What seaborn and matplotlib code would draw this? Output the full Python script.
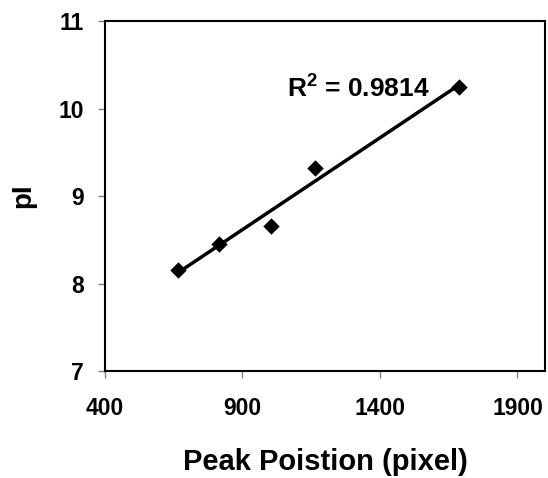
import pandas as pd
import matplotlib
matplotlib.use("Agg")
import matplotlib.pyplot as plt
import seaborn as sns

# values
peak_position = [666, 815, 1002, 1162, 1688]
pi_values = [8.15, 8.45, 8.66, 9.32, 10.25]
r2_label = "R$^2$ = 0.9814"
x_ticks = [400, 900, 1400, 1900]
y_ticks = [7, 8, 9, 10, 11]

df = pd.DataFrame({"Peak": peak_position, "pI": pi_values})

sns.set_style("white")
plt.rcParams['font.family'] = ['Liberation Sans', 'DejaVu Sans']
plt.rcParams['font.weight'] = 'bold'
plt.rcParams['text.color'] = 'black'
plt.rcParams['axes.labelcolor'] = 'black'
plt.rcParams['mathtext.fontset'] = 'custom'
plt.rcParams['mathtext.rm'] = 'Liberation Sans:bold'
plt.rcParams['mathtext.it'] = 'Liberation Sans:bold'
plt.rcParams['mathtext.bf'] = 'Liberation Sans:bold'

fig = plt.figure(figsize=(5.48, 4.78), dpi=100)
ax = fig.add_axes([0.1916, 0.2238, 0.8029, 0.7322])

sns.regplot(data=df, x="Peak", y="pI", ax=ax, ci=None, truncate=True, color="black",
            marker="D", scatter_kws={"s": 70, "linewidths": 0, "alpha": 1},
            line_kws={"linewidth": 2.5})

ax.set_xlim(400, 2000)
ax.set_ylim(7, 11)
ax.set_xticks(x_ticks)
ax.set_yticks(y_ticks)
ax.tick_params(axis="both", direction="out", length=5, width=1, color="gray",
               labelcolor="black", labelsize=16.5, bottom=True, left=True)
ax.tick_params(axis="x", pad=14)
ax.tick_params(axis="y", pad=10)
for lbl in ax.get_xticklabels() + ax.get_yticklabels():
    lbl.set_fontweight("bold")

for s in ax.spines.values():
    s.set_color("black")
    s.set_linewidth(1.5)

ax.set_xlabel("Peak Poistion (pixel)", fontsize=21, fontweight="bold", labelpad=20)
ax.set_ylabel("pI", fontsize=20, fontweight="bold", labelpad=16)

ax.text(1582, 10.12, r2_label, fontsize=19, fontweight="bold", ha="right", va="baseline")

fig.savefig("out.png", dpi=100)
